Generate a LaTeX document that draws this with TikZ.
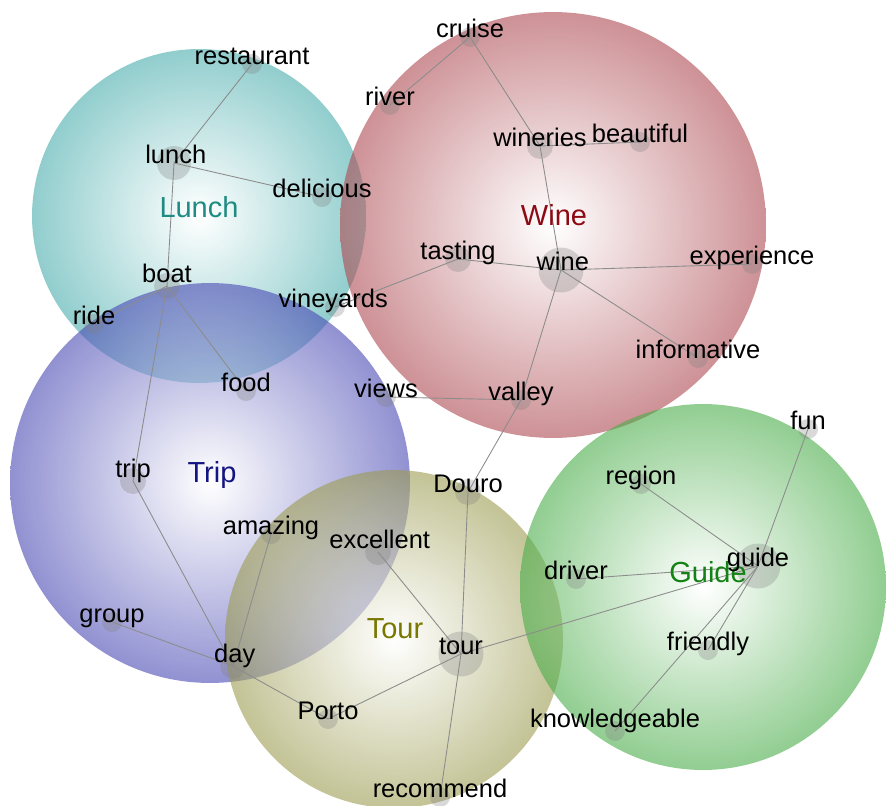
\documentclass[tikz,border=0pt]{standalone}
\usepackage{fontspec}
\setmainfont{Liberation Sans}
\usetikzlibrary{positioning}
\definecolor{lunchc}{RGB}{72,172,172}
\definecolor{winec}{RGB}{172,72,80}
\definecolor{tripc}{RGB}{72,72,180}
\definecolor{tourc}{RGB}{155,155,80}
\definecolor{guidec}{RGB}{72,172,72}
\definecolor{lunchtxt}{RGB}{30,140,130}
\definecolor{winetxt}{RGB}{140,10,20}
\definecolor{triptxt}{RGB}{20,20,130}
\definecolor{tourtxt}{RGB}{120,120,0}
\definecolor{guidetxt}{RGB}{20,130,20}
\begin{document}
\begin{tikzpicture}
[x=0.02cm, y=-0.02cm,
 bubble/.style={inner color=white, outer color=#1, fill opacity=0.6},
 dot/.style={circle, fill=gray, fill opacity=0.3, inner sep=0pt, minimum size=0.4cm},
 mid/.style={minimum size=0.52cm},
 big/.style={minimum size=0.9cm},
 word/.style={anchor=base, inner sep=0pt, font=\fontsize{14.5}{16}\selectfont},
 topic/.style={anchor=base, inner sep=0pt, font=\fontsize{16.5}{18}\selectfont},
 link/.style={draw=black!45, line width=0.5pt}]

  \useasboundingbox (0,0) rectangle (886,805);

  % topic bubbles
  \shade [bubble=lunchc] (199,216) circle (3.34cm);
  \shade [bubble=winec] (553,225) circle (4.26cm);
  \shade [bubble=tripc] (210,483) circle (4cm);
  \shade [bubble=tourc] (394,639) circle (3.38cm);
  \shade [bubble=guidec] (703,587) circle (3.66cm);

  % word dots
  \node (restaurant) [dot] at (252,64) {};
  \node (lunch) [dot, minimum size=0.68cm] at (174,163) {};
  \node (delicious) [dot] at (322,197) {};
  \node (boat) [dot, mid] at (167,286) {};
  \node (ride) [dot] at (94,324) {};
  \node (food) [dot] at (246,391) {};
  \node (vineyards) [dot] at (335,307) {};
  \node (views) [dot] at (386,397) {};
  \node (river) [dot] at (390,105) {};
  \node (cruise) [dot] at (470,37) {};
  \node (wineries) [dot, mid] at (540,146) {};
  \node (beautiful) [dot] at (640,142) {};
  \node (tasting) [dot, mid] at (458,259) {};
  \node (wine) [dot, big] at (561,270) {};
  \node (experience) [dot] at (752,264) {};
  \node (informative) [dot] at (698,358) {};
  \node (valley) [dot] at (521,400) {};
  \node (douro) [dot, mid] at (468,492) {};
  \node (excellent) [dot, mid] at (378,552) {};
  \node (amazing) [dot] at (271,534) {};
  \node (trip) [dot, mid] at (133,481) {};
  \node (group) [dot] at (112,622) {};
  \node (day) [dot, mid] at (233,666) {};
  \node (porto) [dot] at (328,719) {};
  \node (tour) [dot, big] at (461,654) {};
  \node (recommend) [dot] at (440,797) {};
  \node (region) [dot] at (641,484) {};
  \node (fun) [dot] at (808,429) {};
  \node (guide) [dot, big] at (758,566) {};
  \node (driver) [dot] at (576,579) {};
  \node (friendly) [dot] at (708,650) {};
  \node (knowledgeable) [dot] at (615,731) {};

  % links
  \draw [link] (restaurant.center) -- (lunch.center);
  \draw [link] (lunch.center) -- (delicious.center);
  \draw [link] (lunch.center) -- (boat.center);
  \draw [link] (boat.center) -- (ride.center);
  \draw [link] (boat.center) -- (food.center);
  \draw [link] (boat.center) -- (trip.center);
  \draw [link] (cruise.center) -- (river.center);
  \draw [link] (cruise.center) -- (wineries.center);
  \draw [link] (wineries.center) -- (beautiful.center);
  \draw [link] (wineries.center) -- (wine.center);
  \draw [link] (tasting.center) -- (wine.center);
  \draw [link] (tasting.center) -- (vineyards.center);
  \draw [link] (wine.center) -- (experience.center);
  \draw [link] (wine.center) -- (informative.center);
  \draw [link] (wine.center) -- (valley.center);
  \draw [link] (valley.center) -- (views.center);
  \draw [link] (valley.center) -- (douro.center);
  \draw [link] (douro.center) -- (tour.center);
  \draw [link] (tour.center) -- (recommend.center);
  \draw [link] (tour.center) -- (excellent.center);
  \draw [link] (tour.center) -- (porto.center);
  \draw [link] (tour.center) -- (guide.center);
  \draw [link] (trip.center) -- (day.center);
  \draw [link] (group.center) -- (day.center);
  \draw [link] (day.center) -- (amazing.center);
  \draw [link] (day.center) -- (porto.center);
  \draw [link] (guide.center) -- (region.center);
  \draw [link] (guide.center) -- (fun.center);
  \draw [link] (guide.center) -- (driver.center);
  \draw [link] (guide.center) -- (friendly.center);
  \draw [link] (guide.center) -- (knowledgeable.center);

  % topic names
  \node (lunch-t) [topic, text=lunchtxt] at (199,217) {Lunch};
  \node (wine-t) [topic, text=winetxt] at (554,225) {Wine};
  \node (trip-t) [topic, text=triptxt] at (212,482) {Trip};
  \node (tour-t) [topic, text=tourtxt] at (395,638) {Tour};
  \node (guide-t) [topic, text=guidetxt] at (708,582) {Guide};

  % words
  \node (restaurant-w) [word] at (restaurant) {restaurant};
  \node (lunch-w) [word] at ([xshift=1pt]lunch) {lunch};
  \node (delicious-w) [word] at (delicious) {delicious};
  \node (boat-w) [word] at ([yshift=2pt]boat) {boat};
  \node (ride-w) [word] at (ride) {ride};
  \node (food-w) [word] at (food) {food};
  \node (vineyards-w) [word] at ([xshift=-1pt]vineyards) {vineyards};
  \node (views-w) [word] at (views) {views};
  \node (river-w) [word] at (river) {river};
  \node (cruise-w) [word] at (cruise) {cruise};
  \node (wineries-w) [word] at (wineries) {wineries};
  \node (beautiful-w) [word] at (beautiful) {beautiful};
  \node (tasting-w) [word] at (tasting) {tasting};
  \node (wine-w) [word] at ([xshift=1pt]wine) {wine};
  \node (experience-w) [word] at (experience) {experience};
  \node (informative-w) [word] at (informative) {informative};
  \node (valley-w) [word] at (valley) {valley};
  \node (douro-w) [word] at (douro) {Douro};
  \node (excellent-w) [word] at ([xshift=1pt,yshift=2pt]excellent) {excellent};
  \node (amazing-w) [word] at (amazing) {amazing};
  \node (trip-w) [word] at ([yshift=2pt]trip) {trip};
  \node (group-w) [word] at (group) {group};
  \node (day-w) [word] at ([xshift=1pt,yshift=2pt]day) {day};
  \node (porto-w) [word] at (porto) {Porto};
  \node (tour-w) [word] at (tour) {tour};
  \node (recommend-w) [word] at (recommend) {recommend};
  \node (region-w) [word] at (region) {region};
  \node (fun-w) [word] at (fun) {fun};
  \node (guide-w) [word] at (guide) {guide};
  \node (driver-w) [word] at (driver) {driver};
  \node (friendly-w) [word] at (friendly) {friendly};
  \node (knowledgeable-w) [word] at ([yshift=2pt]knowledgeable) {knowledgeable};

\end{tikzpicture}
\end{document}
